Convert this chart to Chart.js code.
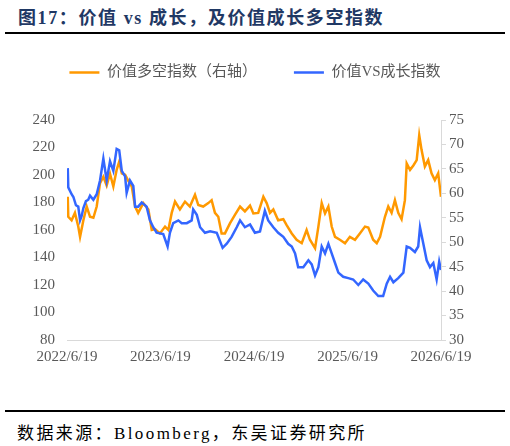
<!DOCTYPE html>
<html lang="zh-CN">
<head>
<meta charset="UTF-8">
<title>价值 vs 成长，及价值成长多空指数</title>
<script src="https://cdn.jsdelivr.net/npm/chart.js"></script>
<style>
    body { margin: 0; width: 510px; height: 446px; background: #fff; position: relative; overflow: hidden;
           font-family: "Liberation Serif", "Noto Sans CJK SC", serif; }
    .title { position: absolute; left: 18px; top: 3px; font-size: 18px; font-weight: bold; color: #1f3864;
             letter-spacing: 1.6px; white-space: nowrap; }
    .rule { position: absolute; left: 5px; width: 500px; height: 2px; background: #000; }
    .chart-box { position: absolute; left: 0; top: 28px; width: 510px; height: 347px; }
    .source { position: absolute; left: 17px; top: 419px; font-size: 17px; letter-spacing: 2.4px; color: #000; white-space: nowrap; }
</style>
</head>
<body>
    <div class="title">图17：价值 vs 成长，及价值成长多空指数</div>
    <div class="rule" style="top:32px"></div>
    <div class="chart-box"><canvas id="chart"></canvas></div>
    <div class="rule" style="top:410px"></div>
    <div class="source">数据来源：Bloomberg，东吴证券研究所</div>

<script>
// x = days since 2022/6/19
const tickDays = [0, 365, 731, 1096, 1461];
const tickLabels = ['2022/6/19', '2023/6/19', '2024/6/19', '2025/6/19', '2026/6/19'];

// 价值VS成长指数 (left axis)
const blueDays = [3,5,18,25,35,44,51,57,64,74,83,90,103,116,129,142,155,168,181,194,204,214,227,233,246,259,266,278,292,311,324,337,350,376,393,402,415,435,448,468,487,493,507,520,539,559,585,608,624,643,663,676,695,715,734,754,773,786,806,825,845,864,878,891,903,923,943,956,969,982,995,1008,1021,1034,1047,1060,1079,1099,1118,1138,1157,1177,1196,1216,1235,1249,1262,1275,1294,1314,1327,1340,1359,1372,1379,1392,1405,1418,1431,1444,1454,1461];
const blueVals = [205,191,186,184,178,177,167,170,176,181,182,185,182,186,196,212,196,210,203,219,218,203,199,187,196,192,177,177,180,177,167,162,158,157,148,158,165,167,165,165,167,175,171,162,158,159,158,147,150,155,162,167,162,164,158,159,174,167,162,158,155,150,148,143,133,133,138,135,127,133,148,143,150,143,136,129,126,125,124,120,124,121,116,112,112,121,126,122,125,129,148,147,144,148,162,150,138,133,136,124,137,131];

// 价值多空指数 (right axis)
const orangeDays = [3,5,18,31,44,51,64,77,90,103,116,129,142,155,168,181,194,204,214,227,239,253,266,278,298,318,331,344,363,383,396,409,422,441,461,480,500,513,532,552,565,578,591,604,617,637,656,676,695,715,728,747,767,780,793,806,825,845,858,878,897,917,936,949,969,982,995,1008,1021,1034,1047,1066,1086,1105,1125,1144,1164,1177,1196,1210,1223,1242,1255,1268,1281,1294,1307,1320,1327,1340,1353,1366,1376,1385,1398,1411,1424,1437,1450,1461];
const orangeVals = [59.3,55.2,54.5,56,53.2,51.1,54.5,57.3,55.2,55,57.3,62.1,63.4,61.6,64,61.4,64.8,66.5,64.1,63.8,62.6,61.4,57.3,56,58,56.7,52.5,52.7,51.8,53.2,52.5,56,58.3,56.7,58.3,57.3,59.7,57.6,57.3,58,58.6,56,55.2,51.8,51.8,53.9,55.6,57.3,56.3,57.5,55.9,56,59.3,58,56,56.7,54.5,54.7,53.5,51.8,50.5,49.8,52.5,50.5,48.8,53.2,58,55.9,57.3,53.2,51.1,50.5,49.8,51.1,50.5,51.8,53.2,53,50.5,49.8,51.1,55.2,57.3,56,58.6,56,54.7,58.6,66.1,64.8,65.7,66.8,71.9,68.9,65.5,66.8,64.1,62.7,64.1,59.3];

const FONT = '"Liberation Serif", "Noto Sans CJK SC", serif';
const GRAY = '#595959';

const legendHeight = {
    id: 'legendHeight',
    beforeInit(chart) {
        const fit = chart.legend.fit;
        chart.legend.fit = function () {
            fit.bind(chart.legend)();
            this.height = 92;
        };
    }
};

new Chart(document.getElementById('chart'), {
    type: 'line',
    data: {
        datasets: [
            {
                label: '价值多空指数（右轴）',
                data: orangeDays.map((d, i) => ({ x: d, y: orangeVals[i] })),
                yAxisID: 'y1',
                borderColor: '#ff9900',
                backgroundColor: '#ff9900',
                borderWidth: 2.5,
                pointRadius: 0,
                pointStyle: 'line',
                tension: 0,
                order: 1
            },
            {
                label: '价值VS成长指数',
                data: blueDays.map((d, i) => ({ x: d, y: blueVals[i] })),
                yAxisID: 'y',
                borderColor: '#3366ff',
                backgroundColor: '#3366ff',
                borderWidth: 2.5,
                pointRadius: 0,
                pointStyle: 'line',
                tension: 0,
                order: 0
            }
        ]
    },
    options: {
        responsive: true,
        maintainAspectRatio: false,
        animation: false,
        layout: { padding: 0 },
        plugins: {
            tooltip: { enabled: false },
            legend: {
                position: 'top',
                labels: {
                    usePointStyle: true,
                    pointStyleWidth: 30,
                    padding: 37,
                    color: GRAY,
                    font: { family: FONT, size: 15 },
                    sort: (a, b) => a.datasetIndex - b.datasetIndex
                }
            }
        },
        scales: {
            x: {
                type: 'linear',
                min: 0,
                max: 1461,
                afterBuildTicks: s => { s.ticks = tickDays.map(v => ({ value: v })); },
                afterFit: s => { s.height = 35; },
                ticks: {
                    autoSkip: false,
                    maxRotation: 0,
                    padding: 8,
                    color: GRAY,
                    font: { family: FONT, size: 15 },
                    callback: v => tickLabels[tickDays.indexOf(v)]
                },
                grid: { display: false, drawTicks: false },
                border: { display: true, color: '#d9d9d9', width: 1 }
            },
            y: {
                position: 'left',
                min: 80,
                max: 240,
                afterFit: s => { s.width = 67; },
                ticks: { stepSize: 20, padding: 12, color: GRAY, font: { family: FONT, size: 15 } },
                grid: { display: false, drawTicks: false },
                border: { display: false }
            },
            y1: {
                position: 'right',
                min: 30,
                max: 75,
                afterFit: s => { s.width = 69; },
                ticks: { stepSize: 5, padding: 3, color: GRAY, font: { family: FONT, size: 15 } },
                grid: { display: true, drawOnChartArea: false, drawTicks: true, tickLength: 5, color: '#d9d9d9' },
                border: { display: true, color: '#d9d9d9', width: 1 }
            }
        }
    },
    plugins: [legendHeight]
});
</script>
</body>
</html>
